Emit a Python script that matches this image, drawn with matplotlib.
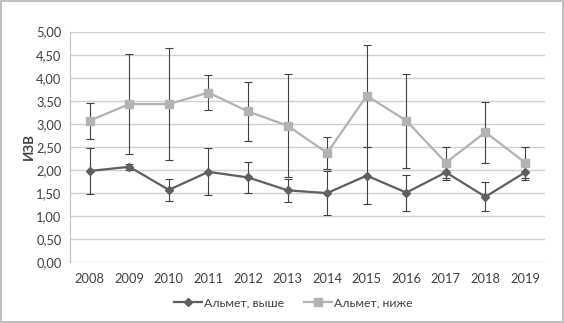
import numpy as np
import matplotlib
matplotlib.use("Agg")
import matplotlib.pyplot as plt
from matplotlib.ticker import FuncFormatter

years = ["2008", "2009", "2010", "2011", "2012", "2013",
         "2014", "2015", "2016", "2017", "2018", "2019"]

above = [1.98, 2.07, 1.57, 1.96, 1.84, 1.56, 1.50, 1.88, 1.51, 1.95, 1.42, 1.95]
above_err = [0.50, 0.07, 0.24, 0.51, 0.33, 0.25, 0.47, 0.61, 0.39, 0.17, 0.31, 0.17]

below = [3.07, 3.43, 3.43, 3.68, 3.27, 2.96, 2.37, 3.61, 3.07, 2.16, 2.82, 2.16]
below_err = [0.39, 1.08, 1.21, 0.38, 0.63, 1.12, 0.35, 1.10, 1.02, 0.34, 0.66, 0.34]

plt.rcParams["font.family"] = ["Lato", "DejaVu Sans"]

fig = plt.figure(figsize=(5.64, 3.23), dpi=100)
fig.patch.set_edgecolor("#bfbfbf")
fig.patch.set_linewidth(1.5)
ax = fig.add_axes([0.124, 0.188, 0.842, 0.714])

x = np.arange(len(years))

ax.errorbar(x, below, yerr=below_err, fmt="none", ecolor="#404040",
            elinewidth=0.8, capsize=3, capthick=0.8, zorder=2)
ax.errorbar(x, above, yerr=above_err, fmt="none", ecolor="#404040",
            elinewidth=0.8, capsize=3, capthick=0.8, zorder=2)

ax.plot(x, above, color="#5f5f5f", lw=1.6, marker="D", ms=4,
        label="Альмет, выше", zorder=3)
ax.plot(x, below, color="#b3b3b3", lw=1.6, marker="s", ms=5.5,
        label="Альмет, ниже", zorder=3)

ax.set_xlim(-0.5, len(years) - 0.5)
ax.set_ylim(0, 5)
ax.set_yticks(np.arange(0, 5.01, 0.5))
ax.yaxis.set_major_formatter(FuncFormatter(lambda v, p: f"{v:.2f}".replace(".", ",")))
ax.set_xticks(x)
ax.set_xticklabels(years)
ax.tick_params(axis="both", length=0, labelsize=9.3, colors="#404040")
ax.tick_params(axis="x", pad=8)
ax.tick_params(axis="y", pad=6)

ax.grid(axis="y", color="#d0d0d0", lw=1)
ax.set_axisbelow(True)
for s in ["top", "right", "bottom"]:
    ax.spines[s].set_visible(False)
ax.spines["left"].set_color("#bfbfbf")

ax.set_ylabel("ИЗВ", fontsize=9.5, fontweight="bold", color="#404040", labelpad=1)

fig.legend(loc="lower center", bbox_to_anchor=(0.52, 0.01), ncol=2, frameon=False,
           fontsize=8.8, labelcolor="#404040", handlelength=2.3, columnspacing=1.6,
           handletextpad=0.2)

fig.savefig("out.png", dpi=100)
